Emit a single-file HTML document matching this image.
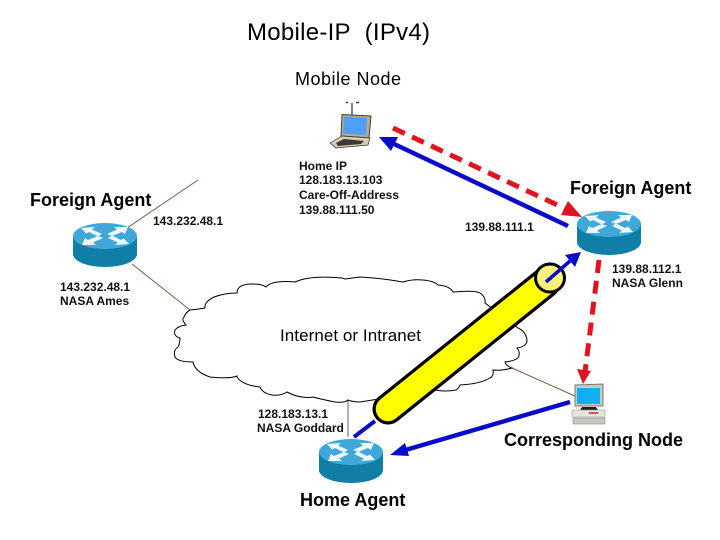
<!DOCTYPE html>
<html><head><meta charset="utf-8"><style>
html,body{margin:0;padding:0;background:#fff}
svg{display:block}
text{font-family:"Liberation Sans",sans-serif;fill:#000}
.b{font-weight:bold;font-size:18px}
.s{font-size:12px;font-weight:bold;fill:#111}
</style></head><body>
<svg width="720" height="540" viewBox="0 0 720 540" xmlns="http://www.w3.org/2000/svg">
<defs>
<g id="router">
<path d="M-32 0V18A32 13 0 0 0 32 18V0Z" fill="#0f7fa8"/>
<ellipse cx="0" cy="0" rx="32" ry="13" fill="#3fa8d8"/>
<g fill="#eef8fc">
<path d="M-24 -8L-10 -9L-13 -6.500L-3 -2L-7 0.500L-16 -4L-19 -2.500Z"/>
<path d="M24 8L10 9L13 6.500L3 2L7 -0.500L16 4L19 2.500Z"/>
<path d="M-23 9L-20 2L-17 4L-7 0L-2 2L-12 6.500L-9 9Z"/>
<path d="M23 -9L20 -2L17 -4L7 0L2 -2L12 -6.500L9 -9Z"/>
</g>
</g>
</defs>

<!-- thin links -->
<g stroke="#7a5a45" stroke-width="1" fill="none">
<path d="M198 180L127 228"/>
<path d="M132 264L190 310"/>
<path d="M512 368L577 397"/>
<path d="M348 400V437"/>
</g>

<!-- cloud -->
<path fill="#fff" stroke="#000" stroke-width="1" d="M190 310Q200 309 205 308Q204 302 214 297Q225 293 237 293Q237 284 252 284Q262 284 266 287Q272 280 295 282Q310 275 342 278L345 279L360 277Q380 278 403 282Q412 279 423 280Q434 281 438 285Q450 286 453 292Q475 290 480 293Q486 297 485 303L518 328Q527 332 527 342Q525 347 517 348Q521 353 518 358Q514 361 505 362Q506 366 512 368Q502 371 493 370Q494 376 490 378Q480 384 460 385Q459 388 456 390Q445 392 435 390L360 402Q353 402 348 400Q345 403 335 402Q320 399 313 397Q300 399 287 392Q281 396 272 395Q262 393 260 387Q242 385 237 377V376Q230 379 210 377Q195 372 193 362Q178 362 175 357Q173 350 178 347Q180 343 180 338Q173 336 175 330Q178 326 186 325Q181 319 184 317Q186 312 190 310Z"/>

<!-- tube -->
<path d="M388 409L545 283" stroke="#000" stroke-width="31" stroke-linecap="round" fill="none"/>
<path d="M388 409L545 283" stroke="#ffff00" stroke-width="24.500" stroke-linecap="round" fill="none"/>
<ellipse cx="550" cy="278" rx="14.500" ry="14" fill="#f8f07a" stroke="#000" stroke-width="3"/>

<!-- routers -->
<use href="#router" x="105" y="236"/>
<use href="#router" x="609" y="224"/>
<use href="#router" x="351" y="452"/>

<!-- blue arrows -->
<g stroke="#0a0acc" stroke-width="4.500" fill="none">
<path d="M568 226L392 143"/>
<path d="M546 282L570 261" stroke-width="3.500"/>
<path d="M354 437L375 421" stroke-width="4"/>
<path d="M570 402L402 451"/>
</g>
<g fill="#0a0acc">
<path d="M379 137L398 137L391 151Z"/>
<path d="M581 252L575 267L565 255Z"/>
<path d="M390 455L405 443L409 456Z"/>
</g>

<!-- red dashed arrows -->
<g stroke="#e0141e" stroke-width="5" fill="none" stroke-dasharray="13 8">
<path d="M393 128L568 210"/>
<path d="M599 260L585 372"/>
</g>
<g fill="#e0141e">
<path d="M582 217L561 215L568 201Z"/>
<path d="M583 384L577 369L591 371Z"/>
</g>

<!-- laptop -->
<g>
<path d="M352 103V115" stroke="#000" stroke-width="1"/>
<path d="M346 102.500h2M356 102.500h3" stroke="#333" stroke-width="1.500"/>
<path d="M342 114.500L371 116L369 138L341 136Z" fill="#b8aa90" stroke="#443" stroke-width="1"/>
<path d="M344 116.500L367 118L366 135L343 133.500Z" fill="#4f9ff5"/>
<path d="M330 143L342 136L370 138L368 145L336 148Z" fill="#d8ccb0" stroke="#333" stroke-width="0.700"/>
<path d="M336 143L344 139L364 141L361 144L338 146Z" fill="#3a3a34"/>
</g>

<!-- desktop -->
<g>
<path d="M575 385L603 384V406H575Z" fill="#c9c9c2" stroke="#777" stroke-width="1"/>
<rect x="577" y="388" width="23" height="16" fill="#10b0f0"/>
<path d="M580 410H598L596 407H582Z" fill="#222"/>
<rect x="572" y="410" width="33" height="7" fill="#e6e6e0" stroke="#888" stroke-width="0.500"/>
<path d="M589 413h9" stroke="#c22" stroke-width="1.500"/>
<rect x="573" y="418" width="32" height="6" fill="#c8c8c2" stroke="#777" stroke-width="0.500"/>
</g>

<!-- labels -->
<text x="247" y="40" font-size="24" textLength="183" lengthAdjust="spacing">Mobile-IP&#160;&#160;(IPv4)</text>
<text x="295" y="85" font-size="18" textLength="106" lengthAdjust="spacing">Mobile Node</text>
<text class="b" x="30" y="206">Foreign Agent</text>
<text class="b" x="570" y="194">Foreign Agent</text>
<text class="s" x="153" y="225">143.232.48.1</text>
<text class="s" x="299" y="170">Home IP</text>
<text class="s" x="299" y="184">128.183.13.103</text>
<text class="s" x="299" y="199">Care-Off-Address</text>
<text class="s" x="299" y="214">139.88.111.50</text>
<text class="s" x="465" y="231">139.88.111.1</text>
<text class="s" x="612" y="273">139.88.112.1</text>
<text class="s" x="612" y="287">NASA Glenn</text>
<text class="s" x="60" y="291">143.232.48.1</text>
<text class="s" x="60" y="305">NASA Ames</text>
<text x="280" y="341" font-size="17" textLength="141" lengthAdjust="spacing">Internet or Intranet</text>
<text class="s" x="258" y="418">128.183.13.1</text>
<text class="s" x="257" y="432">NASA Goddard</text>
<text class="b" x="504" y="446">Corresponding Node</text>
<text class="b" x="300" y="506">Home Agent</text>
</svg>
</body></html>
